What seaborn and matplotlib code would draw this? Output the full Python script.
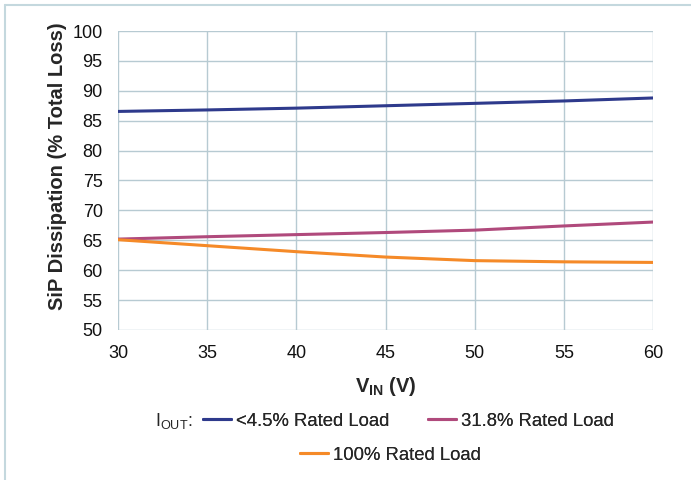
import matplotlib
matplotlib.use("Agg")
import matplotlib.pyplot as plt
import seaborn as sns
import pandas as pd
from matplotlib.lines import Line2D

vin = [30, 35, 40, 45, 50, 55, 60]
low_load = [86.55, 86.8, 87.1, 87.5, 87.9, 88.3, 88.8]
mid_load = [65.2, 65.6, 65.95, 66.3, 66.7, 67.4, 68.05]
full_load = [65.1, 64.1, 63.1, 62.2, 61.6, 61.4, 61.3]
series_names = ["<4.5% Rated Load", "31.8% Rated Load", "100% Rated Load"]
colors = ["#2e3a8c", "#b04a7c", "#f58a28"]

df = pd.DataFrame({
    "vin": vin * 3,
    "val": low_load + mid_load + full_load,
    "series": [series_names[0]] * 7 + [series_names[1]] * 7 + [series_names[2]] * 7,
})

sns.set_style("white")
plt.rcParams["font.family"] = ["Liberation Sans", "DejaVu Sans"]

fig = plt.figure(figsize=(6.91, 4.80), dpi=100)
ax = fig.add_axes([118/691, 1-330/480, (653-118)/691, (330-31)/480])

grid_c = "#b7cad2"
sns.lineplot(data=df, x="vin", y="val", hue="series", palette=colors,
             hue_order=series_names, linewidth=2.2, ax=ax, legend=False)

ax.set_xlim(30, 60)
ax.set_ylim(50, 100)
ax.set_xticks(range(30, 61, 5))
ax.set_yticks(range(50, 101, 5))
ax.grid(True, color=grid_c, linewidth=1.0)
ax.set_axisbelow(True)
for s in ax.spines.values():
    s.set_visible(False)
ax.tick_params(axis="both", length=5, width=1.0, color=grid_c, labelsize=13,
               labelcolor="#111111", pad=6)
ax.set_xlabel("V$_\\mathregular{IN}$ (V)", fontsize=14.5, fontweight="bold", labelpad=9)
ax.set_ylabel("SiP Dissipation (% Total Loss)", fontsize=14.5, fontweight="bold", labelpad=4)
ax.yaxis.label.set_y(0.548)

handles = [Line2D([], [], color=c, linewidth=2.2) for c in colors]
leg_kw = dict(frameon=False, fontsize=13.3, handlelength=1.5, handletextpad=0.3,
              borderaxespad=0, borderpad=0, loc="center left")

fig.text(155/691, 1-421/480, "I$_\\mathregular{OUT}$:", fontsize=13, va="center", ha="left")
positions = [(203, 421), (428, 421), (300, 455)]
for h, name, (px, py) in zip(handles, series_names, positions):
    lg = fig.legend([h], [name], bbox_to_anchor=(px/691, 1-py/480), **leg_kw)
    fig.add_artist(lg)

border_c = "#c4d8de"
fig.add_artist(Line2D([5/691, 5/691], [0, 1-5/480], color=border_c, linewidth=1.5, transform=fig.transFigure))
fig.add_artist(Line2D([5/691, 1], [1-5/480, 1-5/480], color=border_c, linewidth=1.5, transform=fig.transFigure))

fig.savefig("out.png", dpi=100)
